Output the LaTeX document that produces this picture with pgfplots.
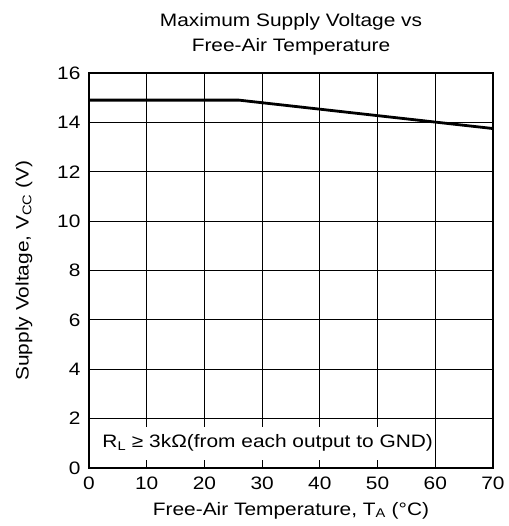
\documentclass[border=0pt]{standalone}
\usepackage{fontspec}
\setmainfont{Liberation Sans}[FakeStretch=1.16]
\usepackage{pgfplots}
\pgfplotsset{compat=1.18}

\begin{document}
\begin{tikzpicture}
\begin{axis}[
    name=ax,
    scale only axis,
    width=404pt,
    height=395pt,
    xmin=0, xmax=70,
    ymin=0, ymax=16,
    xtick={0,10,...,70},
    ytick={0,2,...,16},
    grid=major,
    grid style={black, line width=1pt},
    axis line style={black, line width=1.1pt},
    major tick length=0pt,
    /pgf/number format/assume math mode=true,
    ticklabel style={font=\fontsize{18}{21}\selectfont},
    xticklabel style={yshift=-5pt},
    yticklabel style={xshift=-5pt},
    label style={font=\fontsize{18}{21}\selectfont},
    title style={font=\fontsize{18}{25}\selectfont, align=center, yshift=8pt},
    title={Maximum Supply Voltage vs\\Free-Air Temperature},
    xlabel={Free-Air Temperature, T\textsubscript{A} (°C)},
    ylabel={Supply Voltage, V\textsubscript{CC} (V)},
    xlabel style={yshift=-6pt},
    ylabel style={yshift=18pt},
]
\addplot[black, line width=2.8pt, line join=round] coordinates {(0,14.9) (26,14.9) (70,13.75)};
\fill[white] (axis cs:0.3,0.33) rectangle (axis cs:59.75,1.67);
\node[anchor=west, font=\fontsize{18}{21}\selectfont, inner sep=0pt] at (axis cs:2.3,1.0) {R\textsubscript{L} ≥ 3kΩ(from each output to GND)};
\end{axis}
\path ([xshift=-89pt,yshift=-58pt]ax.south west) rectangle ([xshift=15pt,yshift=73pt]ax.north east);
\end{tikzpicture}
\end{document}
